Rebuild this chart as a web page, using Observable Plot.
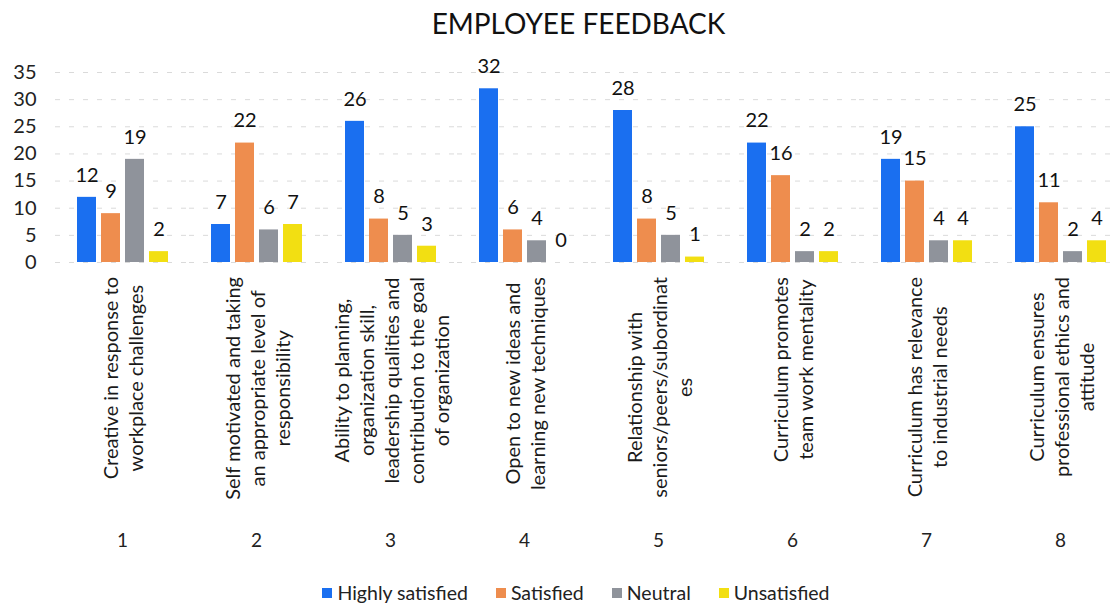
<!DOCTYPE html>
<html>
<head>
<meta charset="utf-8">
<script src="https://cdn.jsdelivr.net/npm/d3@7"></script>
<script src="https://cdn.jsdelivr.net/npm/@observablehq/plot@0.6"></script>
<style>
  html, body { margin: 0; padding: 0; background: #fff; overflow: hidden; }
  body { width: 1117px; height: 607px; font-family: Lato, "Open Sans", sans-serif; color: #111; }
  #title { height: 50px; line-height: 46px; font-size: 28px; text-align: center; padding-left: 40px; box-sizing: border-box; color: #111; }
  #chart { height: 510px; width: 1117px; overflow: hidden; }
  #chart svg { max-width: none !important; }
  #legend { height: 47px; display: flex; justify-content: center; align-items: flex-start; padding-top: 21px; padding-left: 35px; box-sizing: border-box; font-size: 19.5px; color: #222; }
  .item { display: flex; align-items: center; margin-right: 28px; line-height: 24px; }
  .item:last-child { margin-right: 0; }
  .sw { width: 10px; height: 10px; margin-right: 5px; display: inline-block; }
</style>
</head>
<body>
<div id="title">EMPLOYEE FEEDBACK</div>
<div id="chart"></div>
<div id="legend"></div>
<script>
const groups = ["1", "2", "3", "4", "5", "6", "7", "8"];
const categories = [
  "Creative in response to\nworkplace challenges",
  "Self motivated and taking\nan appropriate level of\nresponsibility",
  "Ability to planning,\norganization skill,\nleadership qualities and\ncontribution to the goal\nof organization",
  "Open to new ideas and\nlearning new techniques",
  "Relationship with\nseniors/peers/subordinat\nes",
  "Curriculum promotes\nteam work mentality",
  "Curriculum has relevance\nto industrial needs",
  "Curriculum ensures\nprofessional ethics and\nattitude"
];
const series = ["Highly satisfied", "Satisfied", "Neutral", "Unsatisfied"];
const highlySatisfied = [12, 7, 26, 32, 28, 22, 19, 25];
const satisfied = [9, 22, 8, 6, 8, 16, 15, 11];
const neutral = [19, 6, 5, 4, 5, 2, 4, 2];
const unsatisfied = [2, 7, 3, 0, 1, 2, 4, 4];
const colors = ["#1a6ff0", "#ee8d4e", "#8f939b", "#f2df12"];
const yTicks = [0, 5, 10, 15, 20, 25, 30, 35];

const seriesValues = [highlySatisfied, satisfied, neutral, unsatisfied];
const rows = [];
groups.forEach((g, i) => {
  series.forEach((s, k) => rows.push({group: g, series: s, value: seriesValues[k][i]}));
});
const labelRows = groups.map((g, i) => ({group: g, label: categories[i]}));

const chart = Plot.plot({
  width: 1130,
  height: 510,
  marginLeft: 51,
  marginRight: 0,
  marginTop: 22,
  marginBottom: 298,
  style: {fontSize: "20px", fontFamily: "Lato, 'Open Sans', sans-serif", color: "#222", background: "transparent"},
  fx: {domain: groups, paddingInner: 0, paddingOuter: 0, axis: null, label: null},
  x: {domain: series, paddingInner: 0.21, paddingOuter: 0.83, axis: null, label: null},
  y: {domain: [0, 35], ticks: yTicks, tickSize: 0, tickPadding: 19, label: null, grid: false},
  color: {domain: series, range: colors},
  marks: [
    Plot.ruleY(yTicks, {stroke: "#dadada", strokeDasharray: "5 9", strokeWidth: 1}),
    Plot.barY(rows, {fx: "group", x: "series", y: "value", fill: "series"}),
    Plot.text(rows, {fx: "group", x: "series", y: "value", text: d => String(d.value), dy: -22, fontSize: 20, fill: "#111"}),
    Plot.text(labelRows, {fx: "group", text: "label", frameAnchor: "bottom", rotate: -90, textAnchor: "middle", lineAnchor: "middle", lineHeight: 1.25, dy: 120, fontSize: 20, fill: "#1a1a1a", ariaLabel: () => "category-labels"}),
    Plot.text(groups, {fx: d => d, text: d => d, frameAnchor: "bottom", dy: 284, fontSize: 19, fill: "#222"})
  ]
});
document.getElementById("chart").append(chart);

// top-align the rotated category labels (lines remain centred), as in the reference
const svgTop = chart.getBoundingClientRect().top;
const yAxisBottom = chart.scale("y").apply(0);
let labelTexts = chart.querySelectorAll('text[aria-label="category-labels"]');
if (!labelTexts.length) labelTexts = chart.querySelectorAll('[aria-label="category-labels"] text');
labelTexts.forEach(t => {
  const r = t.getBoundingClientRect();
  const delta = (svgTop + yAxisBottom + 15) - r.top;
  t.setAttribute("transform", `translate(0,${delta}) ` + (t.getAttribute("transform") || ""));
});

// legend
const colorScale = chart.scale("color");
const legend = document.getElementById("legend");
colorScale.domain.forEach((s, i) => {
  const item = document.createElement("div");
  item.className = "item";
  const sw = document.createElement("span");
  sw.className = "sw";
  sw.style.background = colorScale.range[i];
  const lab = document.createElement("span");
  lab.textContent = s;
  item.append(sw, lab);
  legend.append(item);
});
</script>
</body>
</html>
